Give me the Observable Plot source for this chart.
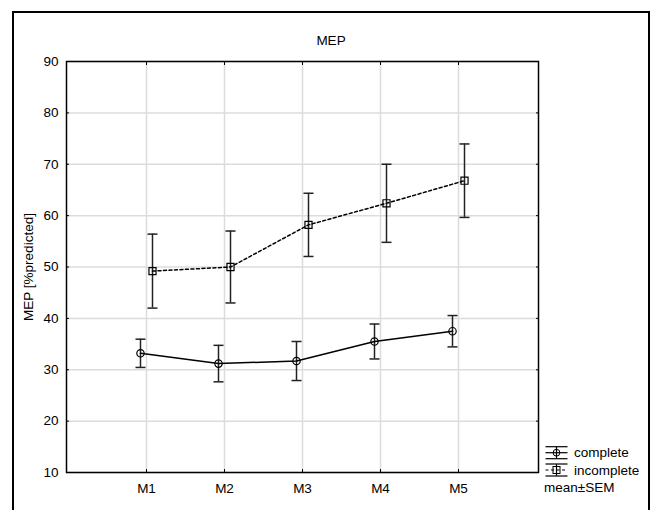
<!DOCTYPE html>
<html>
<head>
<meta charset="utf-8">
<script src="https://cdn.jsdelivr.net/npm/d3@7"></script>
<script src="https://cdn.jsdelivr.net/npm/@observablehq/plot@0.6"></script>
<style>
  body { margin: 0; background: #fff; }
  #wrap { position: relative; width: 657px; height: 510px; overflow: hidden; background: #fff;
          font-family: "Liberation Sans", Arial, sans-serif; }
  #chart { position: absolute; left: 0; top: 0; }
  #border { position: absolute; left: 11.5px; top: 11px; width: 634.5px; height: 540px;
            border: 2.5px solid #000; box-sizing: content-box; pointer-events: none; }
  #legend { position: absolute; left: 0; top: 0; pointer-events: none; }
</style>
</head>
<body>
<div id="wrap">
  <div id="chart"></div>
  <svg id="legend" width="657" height="510"></svg>
  <div id="border"></div>
</div>
<script>
// Measurement sessions on the x axis
const sessions = ["M1", "M2", "M3", "M4", "M5"];

// Group "complete": mean and standard error of the mean
const completeMean = [33.2, 31.2, 31.7, 35.5, 37.5];
const completeSem  = [2.75, 3.55, 3.8, 3.4, 3.05];

// Group "incomplete": mean and standard error of the mean
const incompleteMean = [49.2, 50.0, 58.2, 62.4, 66.8];
const incompleteSem  = [7.2, 7.0, 6.15, 7.6, 7.15];

// Y axis ticks
const yTicks = [10, 20, 30, 40, 50, 60, 70, 80, 90];

const groups = ["complete", "incomplete"];
const seriesNames = { complete: "complete", incomplete: "incomplete" };

function rowsFor(group, means, sems) {
  return sessions.map((s, i) => ({
    session: s, group,
    mean: means[i],
    lo: means[i] - sems[i],
    hi: means[i] + sems[i]
  }));
}
const complete = rowsFor("complete", completeMean, completeSem);
const incomplete = rowsFor("incomplete", incompleteMean, incompleteSem);

// Horizontal whisker cap drawn as a custom symbol (half-width = r)
const cap = {
  draw(ctx, size) {
    const w = Math.sqrt(size / Math.PI);
    ctx.moveTo(-w, 0);
    ctx.lineTo(w, 0);
  }
};

const font = '"Liberation Sans", Arial, sans-serif';
const fs = 13.5;
const grid = { stroke: "#dcdcdc", strokeOpacity: 1, strokeWidth: 1.5 };

function errorMarks(data, offset, symbol, r, dash) {
  return [
    Plot.ruleX(data, { x: "session", y1: "lo", y2: "hi", dx: offset, stroke: "#222", strokeWidth: 1.5 }),
    Plot.dot(data, { x: "session", y: "lo", dx: offset, symbol: cap, r: 5, fill: "none", stroke: "#222", strokeWidth: 1.5 }),
    Plot.dot(data, { x: "session", y: "hi", dx: offset, symbol: cap, r: 5, fill: "none", stroke: "#222", strokeWidth: 1.5 }),
    Plot.line(data, { x: "session", y: "mean", dx: offset, stroke: "#000", strokeWidth: 1.5,
                      strokeDasharray: dash }),
    Plot.dot(data, { x: "session", y: "mean", dx: offset, symbol, r, fill: "none", stroke: "#000", strokeWidth: 1.2 })
  ];
}

const chart = Plot.plot({
  width: 657,
  height: 510,
  marginLeft: 66,
  marginRight: 119,
  marginTop: 61,
  marginBottom: 38,
  style: { fontFamily: font, fontSize: fs + "px", color: "#000", background: "transparent" },
  x: { type: "point", domain: sessions, padding: 1, label: null },
  y: { domain: [10, 90], label: null },
  marks: [
    Plot.gridX(sessions, grid),
    Plot.gridY(yTicks, grid),
    // inward ticks on all four sides
    Plot.axisX(sessions, { anchor: "top", tickSize: 3, dy: 3, tickFormat: () => "", label: null }),
    Plot.axisX(sessions, { anchor: "bottom", tickSize: 3, dy: -3, tickFormat: () => "", label: null }),
    Plot.axisY(yTicks, { anchor: "left", tickSize: 3, dx: 3, tickFormat: () => "", label: null }),
    Plot.axisY(yTicks, { anchor: "right", tickSize: 3, dx: -3, tickFormat: () => "", label: null }),
    // tick labels
    Plot.axisX(sessions, { anchor: "bottom", tickSize: 0, tickPadding: 11, label: null, fontSize: fs }),
    Plot.axisY(yTicks, { anchor: "left", tickSize: 0, tickPadding: 8, label: null, fontSize: fs }),
    Plot.frame({ stroke: "#000", strokeWidth: 1.5 }),
    ...errorMarks(incomplete, 6, "square", 4, "3,2.5"),
    ...errorMarks(complete, -6, "circle", 3.7, null),
    // title
    Plot.text(["MEP"], { frameAnchor: "top", textAnchor: "middle", lineAnchor: "middle",
                         dx: 28.5, dy: -21, fontSize: fs }),
    // y axis title
    Plot.text(["MEP [%predicted]"], { frameAnchor: "left", textAnchor: "middle", lineAnchor: "middle",
                                      rotate: -90, dx: -38, fontSize: fs })
  ]
});
document.getElementById("chart").appendChild(chart);

// Legend: whisker symbol with marker, series line style and name
const lg = d3.select("#legend");
const lx0 = 545.5, lx1 = 567.5, lxm = 556.5;
groups.forEach((g, i) => {
  const cy = 452.7 + i * 17.3;
  const s = "#000";
  lg.append("line").attr("x1", lx0).attr("x2", lx1).attr("y1", cy - 6).attr("y2", cy - 6).attr("stroke", s).attr("stroke-width", 1.2);
  lg.append("line").attr("x1", lx0).attr("x2", lx1).attr("y1", cy + 6).attr("y2", cy + 6).attr("stroke", s).attr("stroke-width", 1.2);
  lg.append("line").attr("x1", lxm).attr("x2", lxm).attr("y1", cy - 6).attr("y2", cy + 6).attr("stroke", s).attr("stroke-width", 1.2);
  lg.append("line").attr("x1", lx0).attr("x2", lx1).attr("y1", cy).attr("y2", cy).attr("stroke", s).attr("stroke-width", 1.2)
    .attr("stroke-dasharray", g === "incomplete" ? "3,2.5" : null);
  if (g === "complete") {
    lg.append("circle").attr("cx", lxm).attr("cy", cy).attr("r", 3.4).attr("fill", "none").attr("stroke", s);
  } else {
    lg.append("rect").attr("x", lxm - 3.5).attr("y", cy - 3.5).attr("width", 7).attr("height", 7).attr("fill", "none").attr("stroke", s);
  }
  lg.append("text").attr("x", 574).attr("y", cy).attr("dy", "0.35em")
    .attr("font-family", font).attr("font-size", fs).text(seriesNames[g]);
});
lg.append("text").attr("x", 544).attr("y", 487.3).attr("dy", "0.35em")
  .attr("font-family", font).attr("font-size", fs).text("mean±SEM");
</script>
</body>
</html>
